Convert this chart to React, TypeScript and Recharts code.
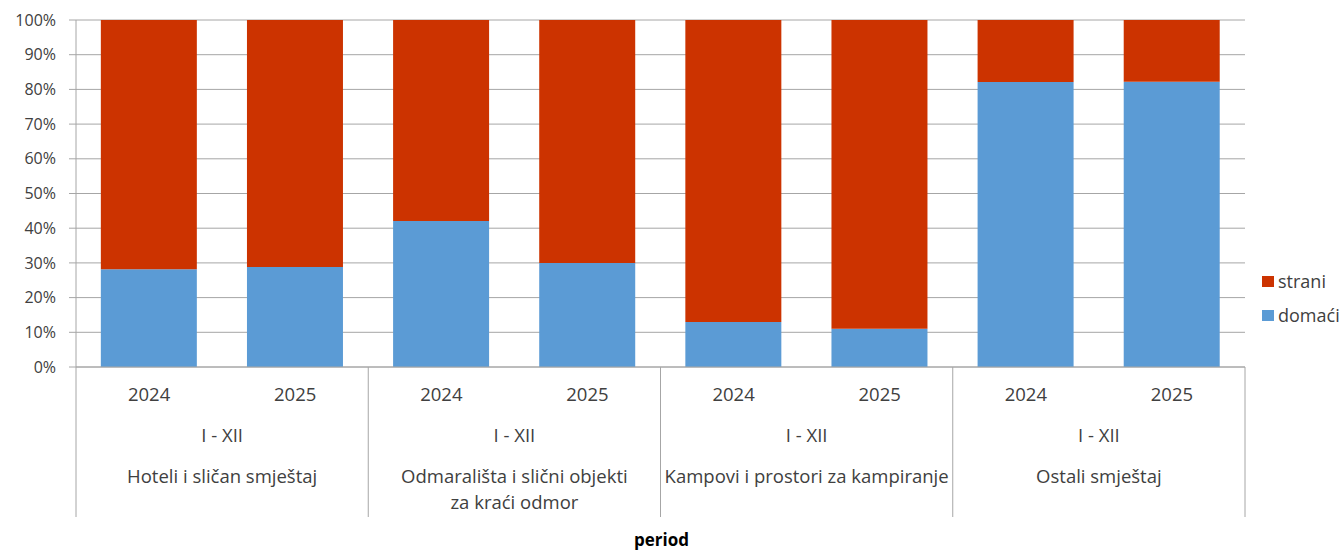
import { Bar, BarChart, CartesianGrid, XAxis, YAxis } from "recharts";

const years = ["2024", "2025", "2024", "2025", "2024", "2025", "2024", "2025"];
const groups = [
  ["Hoteli i sličan smještaj"],
  ["Odmarališta i slični objekti", "za kraći odmor"],
  ["Kampovi i prostori za kampiranje"],
  ["Ostali smještaj"],
];
const period = "I - XII";
const domaci = [28.2, 28.8, 42.1, 30.0, 13.0, 11.0, 82.1, 82.2];
const strani = [71.8, 71.2, 57.9, 70.0, 87.0, 89.0, 17.9, 17.8];
const yTicks = [0, 10, 20, 30, 40, 50, 60, 70, 80, 90, 100];
const legendItems = [
  { label: "strani", key: "strani" },
  { label: "domaći", key: "domaci" },
];

const data = years.map((y, i) => ({ key: `${i}`, year: y, domaci: domaci[i], strani: strani[i] }));

const FONT = "'Open Sans', sans-serif";
const TEXT = "#404040";
const GRID = "#a6a6a6";
const BLUE = "#5b9bd5";
const RED = "#cc3300";
const COLORS: Record<string, string> = { strani: RED, domaci: BLUE };
const BAND = 1169 / 8;
const XFS = 18.5;

function CategoryTick(props: any) {
  const { x, y, index } = props;
  const half = BAND / 2;
  return (
    <g>
      <text x={x} y={y + 34} textAnchor="middle" fontSize={XFS} fill={TEXT} fontFamily={FONT}>
        {years[index]}
      </text>
      {index === 0 && <line x1={x - half} x2={x - half} y1={y} y2={y + 150} stroke={GRID} />}
      {index % 2 === 1 && (
        <g>
          <line x1={x + half} x2={x + half} y1={y} y2={y + 150} stroke={GRID} />
          <text x={x - half} y={y + 75} textAnchor="middle" fontSize={XFS} fill={TEXT} fontFamily={FONT}>
            {period}
          </text>
          {groups[(index - 1) / 2].map((line, j) => (
            <text
              key={j}
              x={x - half}
              y={y + 116 + j * 26}
              textAnchor="middle"
              fontSize={XFS}
              fill={TEXT}
              fontFamily={FONT}
            >
              {line}
            </text>
          ))}
        </g>
      )}
    </g>
  );
}

export default function App() {
  return (
    <div style={{ position: "relative", width: 1343, height: 552, background: "#fff", overflow: "hidden" }}>
      <style>{"body{margin:0}"}</style>
      <BarChart
        width={1343}
        height={552}
        data={data}
        margin={{ top: 20, right: 98, bottom: 35, left: 16 }}
        barCategoryGap="17%"
      >
        <CartesianGrid vertical={false} stroke={GRID} />
        <XAxis
          dataKey="key"
          interval={0}
          tickLine={false}
          tickSize={0}
          tickMargin={0}
          axisLine={{ stroke: GRID }}
          height={150}
          tick={<CategoryTick />}
        />
        <YAxis
          width={60}
          domain={[0, 100]}
          ticks={yTicks}
          tickFormatter={(v) => `${v}%`}
          axisLine={{ stroke: GRID }}
          tickLine={{ stroke: GRID }}
          tickSize={7}
          tickMargin={13}
          tick={{ fontSize: 16, fill: TEXT, fontFamily: FONT }}
        />
        <Bar dataKey="domaci" stackId="a" fill={BLUE} isAnimationActive={false} />
        <Bar dataKey="strani" stackId="a" fill={RED} isAnimationActive={false} />
      </BarChart>
      <div
        style={{
          position: "absolute",
          left: 1262,
          top: 264,
          fontFamily: FONT,
          fontSize: 18,
          color: TEXT,
        }}
      >
        {legendItems.map((it) => (
          <div key={it.key} style={{ display: "flex", alignItems: "center", height: 34 }}>
            <span
              style={{
                width: 12,
                height: 11,
                background: COLORS[it.key],
                marginRight: 4,
                display: "inline-block",
              }}
            />
            {it.label}
          </div>
        ))}
      </div>
      <div
        style={{
          position: "absolute",
          left: 0,
          width: 1323,
          top: 530,
          lineHeight: "19px",
          textAlign: "center",
          fontFamily: FONT,
          fontSize: 17,
          fontWeight: "bold",
          color: "#000",
        }}
      >
        period
      </div>
    </div>
  );
}
